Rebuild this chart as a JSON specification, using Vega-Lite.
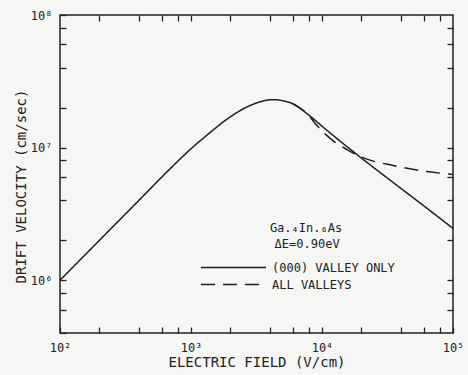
{
  "$schema": "https://vega.github.io/schema/vega-lite/v6.json",
  "width": 393,
  "height": 318,
  "autosize": "none",
  "padding": {"left": 60, "top": 15, "right": 15, "bottom": 42},
  "background": "#f6f6f4",
  "config": {
    "view": {"stroke": "#222", "strokeWidth": 1.5},
    "font": "DejaVu Sans Mono",
    "axis": {
      "grid": false,
      "domain": false,
      "tickColor": "#222",
      "tickWidth": 1.3,
      "tickSize": -6,
      "labelFont": "DejaVu Sans Mono",
      "labelFontSize": 12,
      "labelColor": "#222",
      "labelOverlap": false,
      "labelFlush": false,
      "titleFont": "DejaVu Sans Mono",
      "titleFontSize": 14,
      "titleFontWeight": "normal",
      "titleColor": "#222"
    }
  },
  "data": {
    "values": [
      {"E": 100, "v": 1000000, "series": "(000) VALLEY ONLY"},
      {"E": 200, "v": 2000000, "series": "(000) VALLEY ONLY"},
      {"E": 400, "v": 4000000, "series": "(000) VALLEY ONLY"},
      {"E": 700, "v": 7000000, "series": "(000) VALLEY ONLY"},
      {"E": 1000, "v": 9800000, "series": "(000) VALLEY ONLY"},
      {"E": 1400, "v": 13000000, "series": "(000) VALLEY ONLY"},
      {"E": 1900, "v": 16500000, "series": "(000) VALLEY ONLY"},
      {"E": 2800, "v": 20700000, "series": "(000) VALLEY ONLY"},
      {"E": 3400, "v": 22200000, "series": "(000) VALLEY ONLY"},
      {"E": 4200, "v": 23000000, "series": "(000) VALLEY ONLY"},
      {"E": 5000, "v": 22600000, "series": "(000) VALLEY ONLY"},
      {"E": 6000, "v": 21400000, "series": "(000) VALLEY ONLY"},
      {"E": 7700, "v": 18000000, "series": "(000) VALLEY ONLY"},
      {"E": 11000, "v": 13400000, "series": "(000) VALLEY ONLY"},
      {"E": 19500, "v": 8500000, "series": "(000) VALLEY ONLY"},
      {"E": 35000, "v": 5450000, "series": "(000) VALLEY ONLY"},
      {"E": 63000, "v": 3500000, "series": "(000) VALLEY ONLY"},
      {"E": 100000, "v": 2460000, "series": "(000) VALLEY ONLY"},
      {"E": 6000, "v": 21400000, "series": "ALL VALLEYS"},
      {"E": 7700, "v": 18000000, "series": "ALL VALLEYS"},
      {"E": 9200, "v": 14600000, "series": "ALL VALLEYS"},
      {"E": 12100, "v": 11300000, "series": "ALL VALLEYS"},
      {"E": 15500, "v": 9660000, "series": "ALL VALLEYS"},
      {"E": 20500, "v": 8400000, "series": "ALL VALLEYS"},
      {"E": 35000, "v": 7330000, "series": "ALL VALLEYS"},
      {"E": 63000, "v": 6610000, "series": "ALL VALLEYS"},
      {"E": 100000, "v": 6270000, "series": "ALL VALLEYS"}
    ]
  },
  "layer": [
    {
      "mark": {"type": "line", "interpolate": "monotone", "color": "#1e1e1e", "strokeWidth": 1.5},
      "encoding": {
        "x": {
          "field": "E", "type": "quantitative",
          "scale": {"type": "log", "domain": [100, 100000], "nice": false},
          "axis": {
            "orient": "bottom",
            "values": [100, 200, 400, 600, 800, 1000, 2000, 4000, 6000, 8000, 10000, 20000, 40000, 60000, 80000, 100000],
            "labelExpr": "datum.value == 100 ? '10²' : datum.value == 1000 ? '10³' : datum.value == 10000 ? '10⁴' : datum.value == 100000 ? '10⁵' : ''",
            "labelPadding": 15,
            "title": "ELECTRIC FIELD (V/cm)",
            "titlePadding": 2
          }
        },
        "y": {
          "field": "v", "type": "quantitative",
          "scale": {"type": "log", "domain": [400000, 100000000], "nice": false},
          "axis": {
            "orient": "left",
            "values": [400000, 600000, 800000, 1000000, 2000000, 4000000, 6000000, 8000000, 10000000, 20000000, 40000000, 60000000, 80000000, 100000000],
            "labelExpr": "datum.value == 1000000 ? '10⁶' : datum.value == 10000000 ? '10⁷' : datum.value == 100000000 ? '10⁸' : ''",
            "labelPadding": 14,
            "title": "DRIFT VELOCITY (cm/sec)",
            "titleX": -32,
            "titleY": 171
          }
        },
        "strokeDash": {
          "field": "series", "type": "nominal",
          "scale": {"domain": ["(000) VALLEY ONLY", "ALL VALLEYS"], "range": [[1, 0], [14, 8]]},
          "legend": {
            "orient": "none",
            "legendX": 166,
            "legendY": 245,
            "title": null,
            "padding": 0,
            "symbolType": "M-5,0H5",
            "symbolSize": 169,
            "symbolStrokeWidth": 1.5,
            "symbolStrokeColor": "#1e1e1e",
            "symbolFillColor": "transparent",
            "labelFont": "DejaVu Sans Mono",
            "labelFontSize": 12,
            "labelColor": "#222",
            "labelOffset": 31,
            "rowPadding": 3
          }
        }
      }
    },
    {
      "mark": {"type": "line", "opacity": 0},
      "encoding": {
        "x": {
          "field": "E", "type": "quantitative",
          "axis": {
            "orient": "top",
            "values": [200, 400, 600, 800, 1000, 2000, 4000, 6000, 8000, 10000, 20000, 40000, 60000, 80000],
            "labels": false,
            "title": null
          }
        },
        "y": {
          "field": "v", "type": "quantitative",
          "axis": {
            "orient": "right",
            "values": [600000, 800000, 1000000, 2000000, 4000000, 6000000, 8000000, 10000000, 20000000, 40000000, 60000000, 80000000],
            "labels": false,
            "title": null
          }
        },
        "detail": {"field": "series"}
      }
    },
    {
      "data": {"values": [{}]},
      "mark": {"type": "text", "font": "DejaVu Sans Mono", "fontSize": 12, "color": "#222"},
      "encoding": {
        "x": {"datum": 7550, "type": "quantitative", "axis": null},
        "y": {"datum": 2460000, "type": "quantitative", "axis": null},
        "text": {"value": "Ga.₄In.₆As"}
      }
    },
    {
      "data": {"values": [{}]},
      "mark": {"type": "text", "font": "DejaVu Sans Mono", "fontSize": 12, "color": "#222"},
      "encoding": {
        "x": {"datum": 7700, "type": "quantitative", "axis": null},
        "y": {"datum": 1870000, "type": "quantitative", "axis": null},
        "text": {"value": "ΔE=0.90eV"}
      }
    }
  ],
  "resolve": {"axis": {"x": "independent", "y": "independent"}}
}
